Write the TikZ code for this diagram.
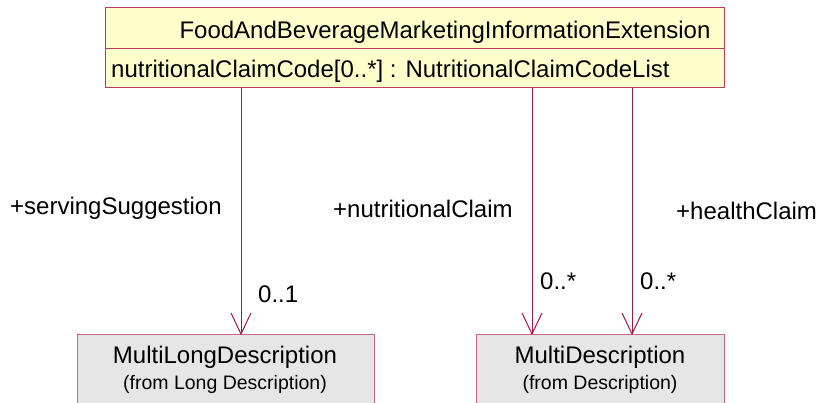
\documentclass[tikz,border=0pt]{standalone}
\usepackage{fontspec}
\setmainfont{Liberation Sans}
\usepackage{xcolor}
\definecolor{assocred}{RGB}{163,20,72}
\definecolor{boxred}{RGB}{185,60,95}
\definecolor{classyellow}{RGB}{255,255,204}
\definecolor{boxpink}{RGB}{200,100,135}
\definecolor{extgray}{RGB}{230,230,230}

\begin{document}
\begin{tikzpicture}[x=1pt,y=-1pt]
\tikzstyle{every node}+=[inner sep=0pt]
\tikzstyle{lbl}=[font=\fontsize{24}{28}\selectfont, anchor=base west]
\tikzstyle{assoc}=[draw=assocred, line width=1pt]
\useasboundingbox (0,0) rectangle (817,403);
\begin{scope}
\clip (0,0) rectangle (817,403);
% classes
\node [draw=boxred, fill=classyellow, line width=1pt, minimum width=619pt, minimum height=80pt] (cFood) at (414.5,48) {};
\draw [boxred, line width=1pt] (cFood.west |- 0,49) -- (cFood.east |- 0,49);
\node [lbl, anchor=base] (tFood) at (445,39) {FoodAndBeverageMarketingInformationExtension};
\node [lbl] (tAttr) at (111,78) {nutritionalClaimCode[0..*] : NutritionalClaimCodeList};
\node [draw=boxpink, fill=extgray, line width=1pt, minimum width=297pt, minimum height=80pt, anchor=north] (cLong) at (225.5,334) {};
\node [lbl, anchor=base] (tLong) at (225,363) {MultiLongDescription};
\node [font=\fontsize{19.5}{22}\selectfont, anchor=base] (fLong) at (225,390) {(from Long Description)};
\node [draw=boxpink, fill=extgray, line width=1pt, minimum width=248pt, minimum height=80pt, anchor=north] (cDesc) at (600,334) {};
\node [lbl, anchor=base] (tDesc) at (600,363) {MultiDescription};
\node [font=\fontsize{19.5}{22}\selectfont, anchor=base] (fDesc) at (600,390) {(from Description)};
\end{scope}
% associations
\coordinate (aSrv) at (241,0);
\coordinate (aNut) at (532,0);
\coordinate (aHlt) at (632,0);
\draw [assoc] (aSrv |- cFood.south) -- (aSrv |- cLong.north);
\draw [assoc] (aSrv |- cLong.north) ++(-10,-21) -- (aSrv |- cLong.north) -- ++(10,-21);
\draw [assoc] (aNut |- cFood.south) -- (aNut |- cDesc.north);
\draw [assoc] (aNut |- cDesc.north) ++(-10,-21) -- (aNut |- cDesc.north) -- ++(10,-21);
\draw [assoc] (aHlt |- cFood.south) -- (aHlt |- cDesc.north);
\draw [assoc] (aHlt |- cDesc.north) ++(-10,-21) -- (aHlt |- cDesc.north) -- ++(10,-21);
% role names and multiplicities
\node [lbl] (rSrv) at (10,215) {+servingSuggestion};
\node [lbl] (mSrv) at (258,303) {0..1};
\node [lbl] (rNut) at (333,218) {+nutritionalClaim};
\node [lbl] (mNut) at (540,290) {0..*};
\node [lbl] (rHlt) at (676,220) {+healthClaim};
\node [lbl] (mHlt) at (640,290) {0..*};
\end{tikzpicture}
\end{document}
